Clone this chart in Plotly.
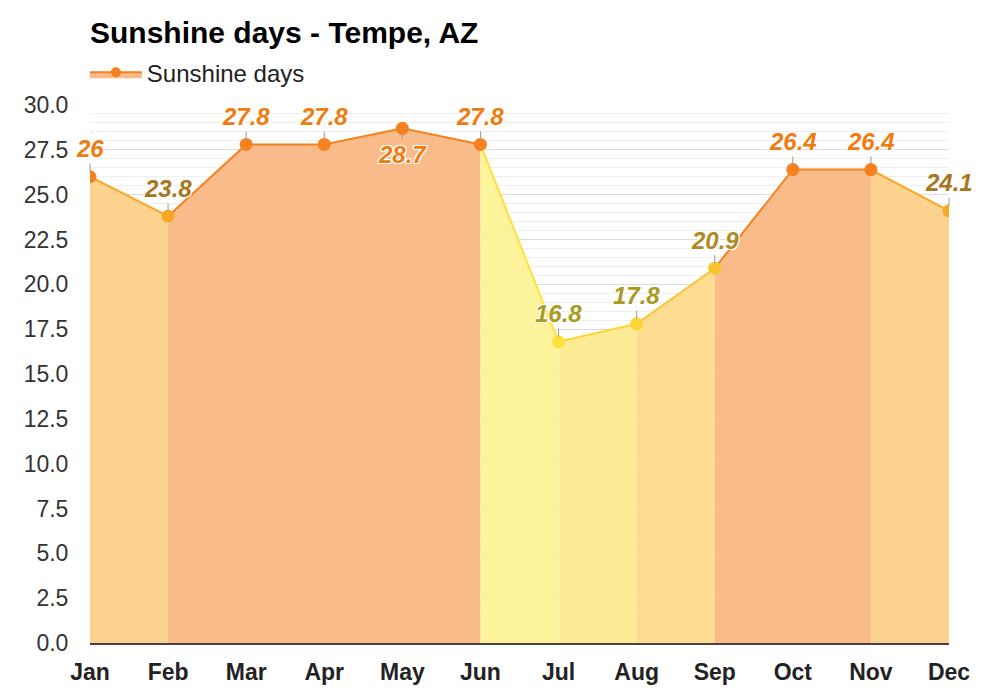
import plotly.graph_objects as go

months = ["Jan", "Feb", "Mar", "Apr", "May", "Jun", "Jul", "Aug", "Sep", "Oct", "Nov", "Dec"]
sunshine_days = [26, 23.8, 27.8, 27.8, 28.7, 27.8, 16.8, 17.8, 20.9, 26.4, 26.4, 24.1]

point_colors = ["#f5821f", "#f8a623", "#f5821f", "#f5821f", "#f5821f", "#f5821f",
                "#fde23c", "#fbd535", "#f9c42e", "#f5821f", "#f5821f", "#f8a623"]
label_colors = ["#f07b10", "#a8761e", "#f07b10", "#f07b10", "#f07b10", "#f07b10",
                "#a99a20", "#a99a20", "#b0891f", "#f07b10", "#f07b10", "#a8761e"]
fill_colors = ["#fcd28f", "#f9bb8a", "#f9bb8a", "#f9bb8a", "#f9bb8a", "#fdf39b",
               "#fdeb96", "#fcdc91", "#f9bb8a", "#f9bb8a", "#fcd28f"]
line_colors = ["#f8a623", "#f5821f", "#f5821f", "#f5821f", "#f5821f", "#fde23c",
               "#fbd535", "#f9c42e", "#f5821f", "#f5821f", "#f8a623"]
label_below = ["May"]

x = list(range(len(months)))

# group consecutive segments sharing the same colours (avoids seams)
groups = []
for i in range(len(months) - 1):
    key = (fill_colors[i], line_colors[i])
    if groups and groups[-1][0] == key and groups[-1][2] == i:
        groups[-1][2] = i + 1
    else:
        groups.append([key, i, i + 1])

fig = go.Figure()

for (fc, lc), a, b in groups:
    fig.add_trace(go.Scatter(
        x=x[a:b + 1],
        y=sunshine_days[a:b + 1],
        mode="lines",
        fill="tozeroy",
        fillcolor=fc,
        line=dict(color=lc, width=2),
        showlegend=False,
        hoverinfo="skip",
    ))

fig.add_trace(go.Scatter(
    x=x,
    y=sunshine_days,
    mode="markers",
    marker=dict(color=point_colors, size=13),
    showlegend=False,
))

# legend entry only
fig.add_trace(go.Scatter(
    x=[None],
    y=[None],
    name="Sunshine days",
    mode="lines+markers",
    fill="tozeroy",
    fillcolor="#f9bb8a",
    line=dict(color="#f5821f", width=2),
    marker=dict(color="#f5821f", size=10),
))

outline = ("1px 1px 0 #fff, -1px -1px 0 #fff, 1px -1px 0 #fff, -1px 1px 0 #fff, "
           "0 1px 0 #fff, 0 -1px 0 #fff, 1px 0 0 #fff, -1px 0 0 #fff")
for i, m in enumerate(months):
    below = m in label_below
    fig.add_annotation(
        x=x[i],
        y=sunshine_days[i],
        text=str(sunshine_days[i]),
        showarrow=True,
        arrowhead=0,
        arrowwidth=1,
        arrowcolor="#999",
        standoff=5,
        ax=0,
        ay=26 if below else -28,
        font=dict(family="Liberation Sans, Arial", size=24, color=label_colors[i],
                  style="italic", weight="bold", shadow=outline),
    )

fig.update_layout(
    width=1000,
    height=700,
    margin=dict(l=82, r=59, t=97, b=65),
    paper_bgcolor="white",
    plot_bgcolor="white",
    font=dict(family="Liberation Sans, Arial", color="#333"),
    title=dict(
        text="<b>Sunshine days - Tempe, AZ</b>",
        x=0.082,
        xanchor="left",
        y=1 - 24 / 700,
        yanchor="middle",
        font=dict(size=30, color="#000"),
    ),
    legend=dict(
        orientation="h",
        x=-0.006,
        xanchor="left",
        y=1.06,
        yanchor="middle",
        itemwidth=52,
        font=dict(size=24, color="#222"),
        bgcolor="rgba(0,0,0,0)",
    ),
    xaxis=dict(
        range=[0, 11],
        tickmode="array",
        tickvals=x,
        ticktext=["<b>%s</b>" % m for m in months],
        tickfont=dict(size=23, color="#222"),
        showgrid=False,
        showline=True,
        linecolor="#444",
        linewidth=1.5,
        ticks="outside",
        ticklen=8,
        tickcolor="rgba(0,0,0,0)",
        zeroline=False,
        fixedrange=True,
    ),
    yaxis=dict(
        range=[0, 30],
        dtick=2.5,
        tickformat=".1f",
        tickfont=dict(size=23, color="#333"),
        showgrid=True,
        gridcolor="#dcdcdc",
        minor=dict(dtick=0.5, showgrid=True, gridcolor="#efefef"),
        ticks="outside",
        ticklen=16,
        tickcolor="rgba(0,0,0,0)",
        zeroline=False,
        fixedrange=True,
    ),
)

fig.write_html("out.html")
